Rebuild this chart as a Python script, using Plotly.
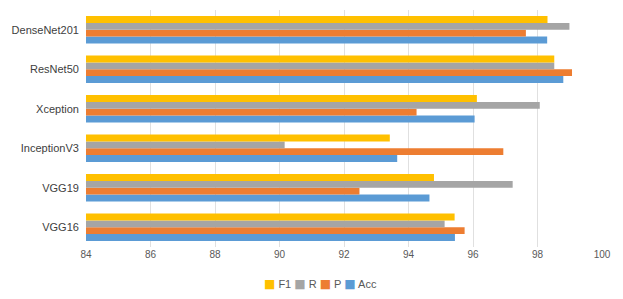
import plotly.graph_objects as go

models = ["VGG16", "VGG19", "InceptionV3", "Xception", "ResNet50", "DenseNet201"]
acc = [95.44, 94.65, 93.65, 96.05, 98.80, 98.30]
prec = [95.74, 92.48, 96.94, 94.25, 99.07, 97.64]
rec = [95.12, 97.23, 90.16, 98.07, 98.52, 98.99]
f1 = [95.43, 94.79, 93.42, 96.12, 98.52, 98.31]
tick_vals = [84, 86, 88, 90, 92, 94, 96, 98, 100]

series = [("Acc", acc, "#5B9BD5"), ("P", prec, "#ED7D31"), ("R", rec, "#A5A5A5"), ("F1", f1, "#FFC000")]

fig = go.Figure()
for name, vals, col in series:
    fig.add_trace(go.Bar(y=models, x=vals, name=name, orientation="h",
                         marker=dict(color=col, line=dict(width=0))))

# compact Excel-style legend as text (legend order F1, R, P, Acc)
legend_text = " ".join(
    f"<span style='color:{col};font-size:12px;font-family:DejaVu Sans'>■</span> {name}"
    for name, _, col in reversed(series)
)
fig.add_annotation(text=legend_text, xref="paper", yref="paper", x=0.455, y=-0.12,
                   xanchor="center", yanchor="top", showarrow=False,
                   font=dict(size=11, color="#595959"))

fig.update_layout(
    width=623, height=299,
    margin=dict(l=86, r=21, t=10, b=52, autoexpand=False),
    barmode="group", bargap=0.31, bargroupgap=0,
    plot_bgcolor="white", paper_bgcolor="white",
    font=dict(family="Liberation Sans, Arial, sans-serif", size=11, color="#404040"),
    xaxis=dict(range=[84, 100], tickvals=tick_vals, showgrid=True, gridcolor="#E0E0E0",
               gridwidth=1, zeroline=False, showline=False, ticks="",
               tickfont=dict(size=10, color="#595959")),
    yaxis=dict(showgrid=False, showline=False, ticks="", ticksuffix="  ",
               tickfont=dict(size=11, color="#404040")),
    showlegend=False,
)

fig.write_html("out.html", config={"displayModeBar": False},
               post_script="document.body.style.margin='0';")
